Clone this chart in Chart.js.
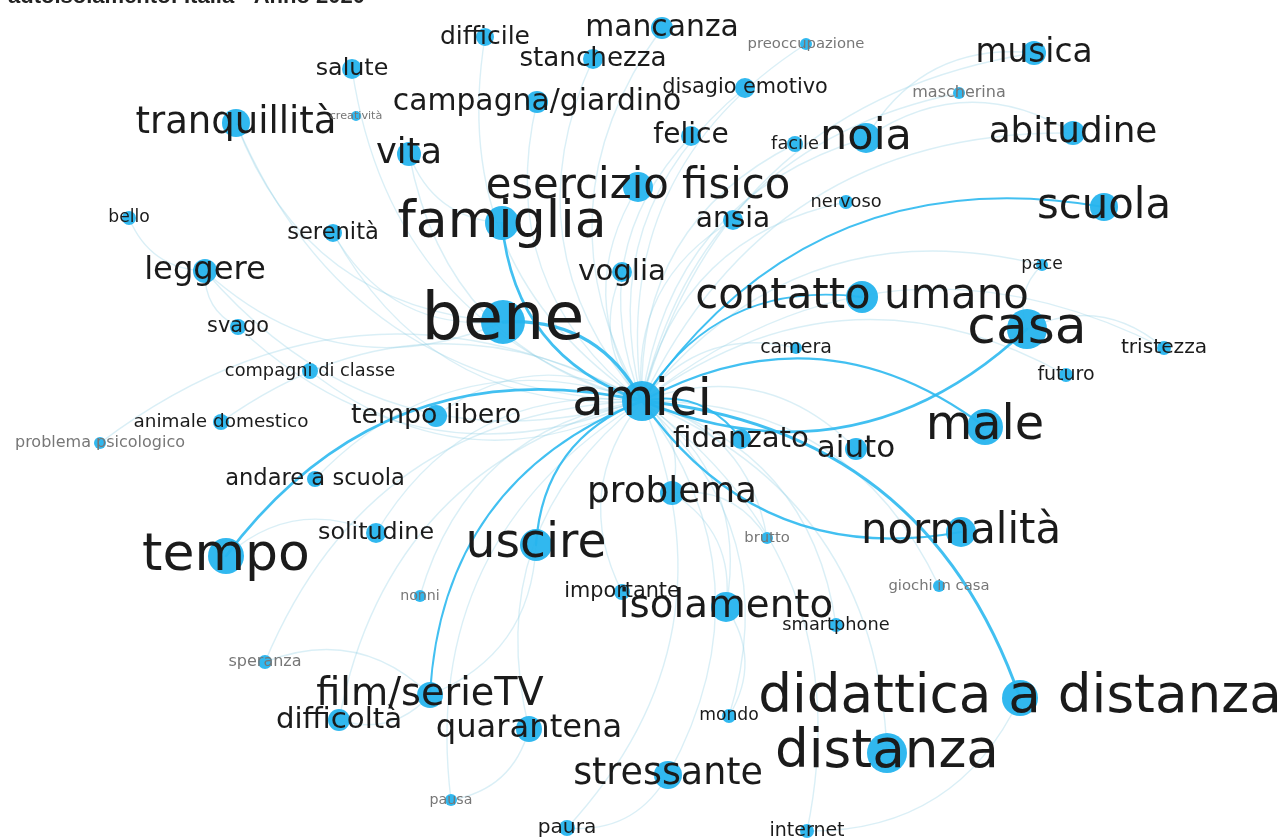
<!DOCTYPE html>
<html lang="it">
<head>
<meta charset="utf-8">
<title>amici - rete di parole</title>
<script src="https://cdn.jsdelivr.net/npm/chart.js@4.4.1/dist/chart.umd.min.js"></script>
<style>
  html, body { margin: 0; padding: 0; background: #ffffff; }
  #wrap { width: 1287px; height: 839px; }
</style>
</head>
<body>
<div id="wrap"><canvas id="net" width="1287" height="839"></canvas></div>
<script>
// ------------------------------------------------------------
// Word network around "amici" (Gephi-style layout)
// words + layout coordinates + word frequency + node degree
// ------------------------------------------------------------
const TITLE = "autoisolamento: Italia - Anno 2020";

const words = [
  "amici", "bene", "famiglia", "casa", "tempo", "uscire", "didattica a distanza", "distanza",
  "male", "normalità", "isolamento", "contatto umano", "scuola", "esercizio fisico", "noia",
  "abitudine", "musica", "mancanza", "tranquillità", "vita", "campagna/giardino", "stanchezza",
  "difficile", "salute", "disagio emotivo", "preoccupazione", "mascherina", "felice", "facile",
  "nervoso", "ansia", "voglia", "serenità", "bello", "leggere", "svago", "compagni di classe",
  "animale domestico", "problema psicologico", "tempo libero", "andare a scuola", "solitudine",
  "nonni", "speranza", "film/serieTV", "difficoltà", "quarantena", "stressante", "pausa", "paura",
  "internet", "mondo", "importante", "smartphone", "brutto", "giochi in casa", "problema",
  "fidanzato", "aiuto", "camera", "futuro", "tristezza", "pace", "creatività"
];

// layout coordinates (x to the right, y downwards)
const posX = [
  642, 503, 502, 1027, 226, 536, 1020, 887,
  985, 961, 726, 862, 1104, 638, 866,
  1073, 1034, 662, 236, 409, 537, 593,
  485, 352, 745, 806, 959, 691, 795,
  846, 733, 622, 333, 129, 205, 238, 310,
  221, 100, 436, 315, 376,
  420, 265, 430, 339, 529, 668, 451, 567,
  807, 729, 622, 836, 767, 939, 672,
  741, 856, 796, 1066, 1164, 1042, 356
];
const posY = [
  401, 322, 223, 329, 556, 545, 698, 753,
  427, 532, 607, 297, 207, 187, 138,
  133, 53, 28, 123, 154, 102, 59,
  37, 69, 88, 44, 93, 136, 144,
  202, 220, 272, 233, 218, 271, 327, 371,
  422, 443, 416, 479, 533,
  596, 662, 695, 720, 729, 775, 800, 828,
  831, 716, 592, 625, 538, 586, 493,
  439, 449, 348, 375, 348, 265, 116
];

// how often each word appears (drives label size)
const freq = [
  70, 92, 70, 70, 70, 62, 72, 72,
  63, 53, 48, 53, 53, 53, 55,
  43, 38, 33, 45, 42, 33, 27,
  25, 23, 18, 8, 10, 30, 13,
  13, 30, 32, 21, 12, 37, 18, 13,
  14, 10, 28, 21, 23,
  7, 10, 47, 32, 37, 44, 7, 17,
  15, 12, 18, 13, 8, 8, 43,
  32, 35, 15, 15, 17, 12, 2
];

// number of links of each word (drives node size)
const degree = [
  20, 22, 17, 20, 18, 16, 18, 20,
  18, 15, 15, 16, 14, 15, 15,
  12, 12, 11, 14, 12, 11, 10,
  9, 10, 10, 6, 6, 10, 8,
  7, 10, 10, 9, 7, 12, 8, 8,
  8, 6, 11, 8, 10,
  6, 7, 13, 11, 13, 14, 6, 8,
  7, 7, 8, 7, 6, 6, 12,
  10, 11, 6, 7, 7, 6, 5
];

// co-occurrence links: [source, target, weight]
const edges = [
  ["bene", "amici", 6], ["amici", "famiglia", 4], ["tempo", "amici", 4], ["casa", "amici", 4],
  ["amici", "didattica a distanza", 5], ["amici", "male", 3], ["normalità", "amici", 3],
  ["uscire", "amici", 3], ["amici", "contatto umano", 2], ["amici", "scuola", 2],
  ["film/serieTV", "amici", 2], ["amici", "fidanzato", 2], ["tempo libero", "amici", 1],
  ["amici", "musica", 1], ["amici", "noia", 1], ["amici", "abitudine", 1], ["amici", "mancanza", 1],
  ["amici", "esercizio fisico", 1], ["amici", "stanchezza", 1], ["amici", "disagio emotivo", 1],
  ["amici", "preoccupazione", 1], ["amici", "mascherina", 1], ["amici", "felice", 1],
  ["amici", "facile", 1], ["amici", "nervoso", 1], ["amici", "ansia", 1], ["amici", "voglia", 1],
  ["amici", "campagna/giardino", 1], ["amici", "difficile", 1], ["amici", "vita", 1],
  ["amici", "salute", 1], ["amici", "tranquillità", 1], ["amici", "serenità", 1],
  ["amici", "leggere", 1], ["amici", "svago", 1], ["amici", "compagni di classe", 1],
  ["animale domestico", "amici", 1], ["problema psicologico", "amici", 1],
  ["andare a scuola", "amici", 1], ["solitudine", "amici", 1], ["nonni", "amici", 1],
  ["speranza", "amici", 1], ["difficoltà", "amici", 1], ["quarantena", "amici", 1],
  ["amici", "stressante", 1], ["pausa", "amici", 1], ["amici", "paura", 1], ["amici", "internet", 1],
  ["amici", "mondo", 1], ["importante", "amici", 1], ["amici", "isolamento", 1],
  ["amici", "smartphone", 1], ["amici", "brutto", 1], ["amici", "giochi in casa", 1],
  ["amici", "problema", 1], ["amici", "aiuto", 1], ["amici", "camera", 1], ["amici", "futuro", 1],
  ["amici", "tristezza", 1], ["amici", "pace", 1], ["amici", "distanza", 1],
  ["bene", "tranquillità", 1], ["bene", "leggere", 1], ["bene", "serenità", 1], ["famiglia", "vita", 1],
  ["leggere", "bello", 1], ["svago", "leggere", 1], ["tempo", "solitudine", 1],
  ["film/serieTV", "difficoltà", 1], ["quarantena", "pausa", 1], ["isolamento", "mondo", 1],
  ["didattica a distanza", "internet", 1], ["noia", "musica", 1], ["noia", "abitudine", 1],
  ["casa", "tristezza", 1], ["casa", "pace", 1], ["stressante", "paura", 1], ["speranza", "film/serieTV", 1],
  ["problema", "brutto", 1], ["problema", "isolamento", 1], ["uscire", "film/serieTV", 1]
];

// ------------------------------------------------------------
// styling
// ------------------------------------------------------------
const NODE_COLOR = "rgba(38, 180, 238, 0.95)";
const STRONG_EDGE = "rgba(45, 185, 240, 0.9)";
const WEAK_EDGE = "rgba(140, 205, 228, 0.32)";
const LABEL_FONT = '"DejaVu Sans", Verdana, sans-serif';
const CURVE = 0.32; // how far the control point sits off the chord

function fontSizeFor(f) { return 10 + f * 0.6; }
function labelColorFor(f) { return f <= 10 ? "#777777" : "#1b1b1b"; }

const index = {};
words.forEach((w, i) => { index[w] = i; });

// Edges are drawn as clockwise curves, like Gephi does
const edgePlugin = {
  id: "edges",
  beforeDatasetsDraw(chart) {
    const { ctx, scales: { x, y } } = chart;
    ctx.save();
    ctx.lineCap = "round";
    // weak links first, strong ones on top
    const sorted = [...edges].sort((a, b) => a[2] - b[2]);
    for (const [from, to, w] of sorted) {
      const a = index[from], b = index[to];
      const x0 = x.getPixelForValue(posX[a]), y0 = y.getPixelForValue(posY[a]);
      const x1 = x.getPixelForValue(posX[b]), y1 = y.getPixelForValue(posY[b]);
      const dx = x1 - x0, dy = y1 - y0;
      const cx = (x0 + x1) / 2 + dy * CURVE;
      const cy = (y0 + y1) / 2 - dx * CURVE;
      ctx.beginPath();
      ctx.moveTo(x0, y0);
      ctx.quadraticCurveTo(cx, cy, x1, y1);
      ctx.strokeStyle = w >= 2 ? STRONG_EDGE : WEAK_EDGE;
      ctx.lineWidth = w >= 2 ? 1.2 + w * 0.35 : 1.4;
      ctx.stroke();
    }
    ctx.restore();
  }
};

// Word labels sit centred on top of their node
const labelPlugin = {
  id: "labels",
  afterDatasetsDraw(chart) {
    const { ctx, scales: { x, y } } = chart;
    ctx.save();
    ctx.textAlign = "center";
    ctx.textBaseline = "middle";
    words.forEach((w, i) => {
      ctx.font = `${fontSizeFor(freq[i]).toFixed(1)}px ${LABEL_FONT}`;
      ctx.fillStyle = labelColorFor(freq[i]);
      ctx.fillText(w, x.getPixelForValue(posX[i]), y.getPixelForValue(posY[i]));
    });
    // title, cut off at the top edge of the picture
    ctx.textAlign = "left";
    ctx.textBaseline = "alphabetic";
    ctx.font = 'bold 22px "Liberation Sans", Arial, sans-serif';
    ctx.fillStyle = "#222222";
    ctx.fillText(TITLE, 8, 3);
    ctx.restore();
  }
};

new Chart(document.getElementById("net"), {
  type: "bubble",
  data: {
    datasets: [{
      data: words.map((w, i) => ({ x: posX[i], y: posY[i], r: degree[i] })),
      backgroundColor: NODE_COLOR,
      borderWidth: 0,
      hoverRadius: 0,
      clip: false
    }]
  },
  options: {
    responsive: false,
    animation: false,
    events: [],
    layout: { padding: 0, autoPadding: false },
    scales: {
      x: { type: "linear", min: 0, max: 1287, display: false },
      y: { type: "linear", min: 0, max: 839, reverse: true, display: false }
    },
    plugins: {
      legend: { display: false },
      tooltip: { enabled: false }
    }
  },
  plugins: [edgePlugin, labelPlugin]
});
</script>
</body>
</html>
